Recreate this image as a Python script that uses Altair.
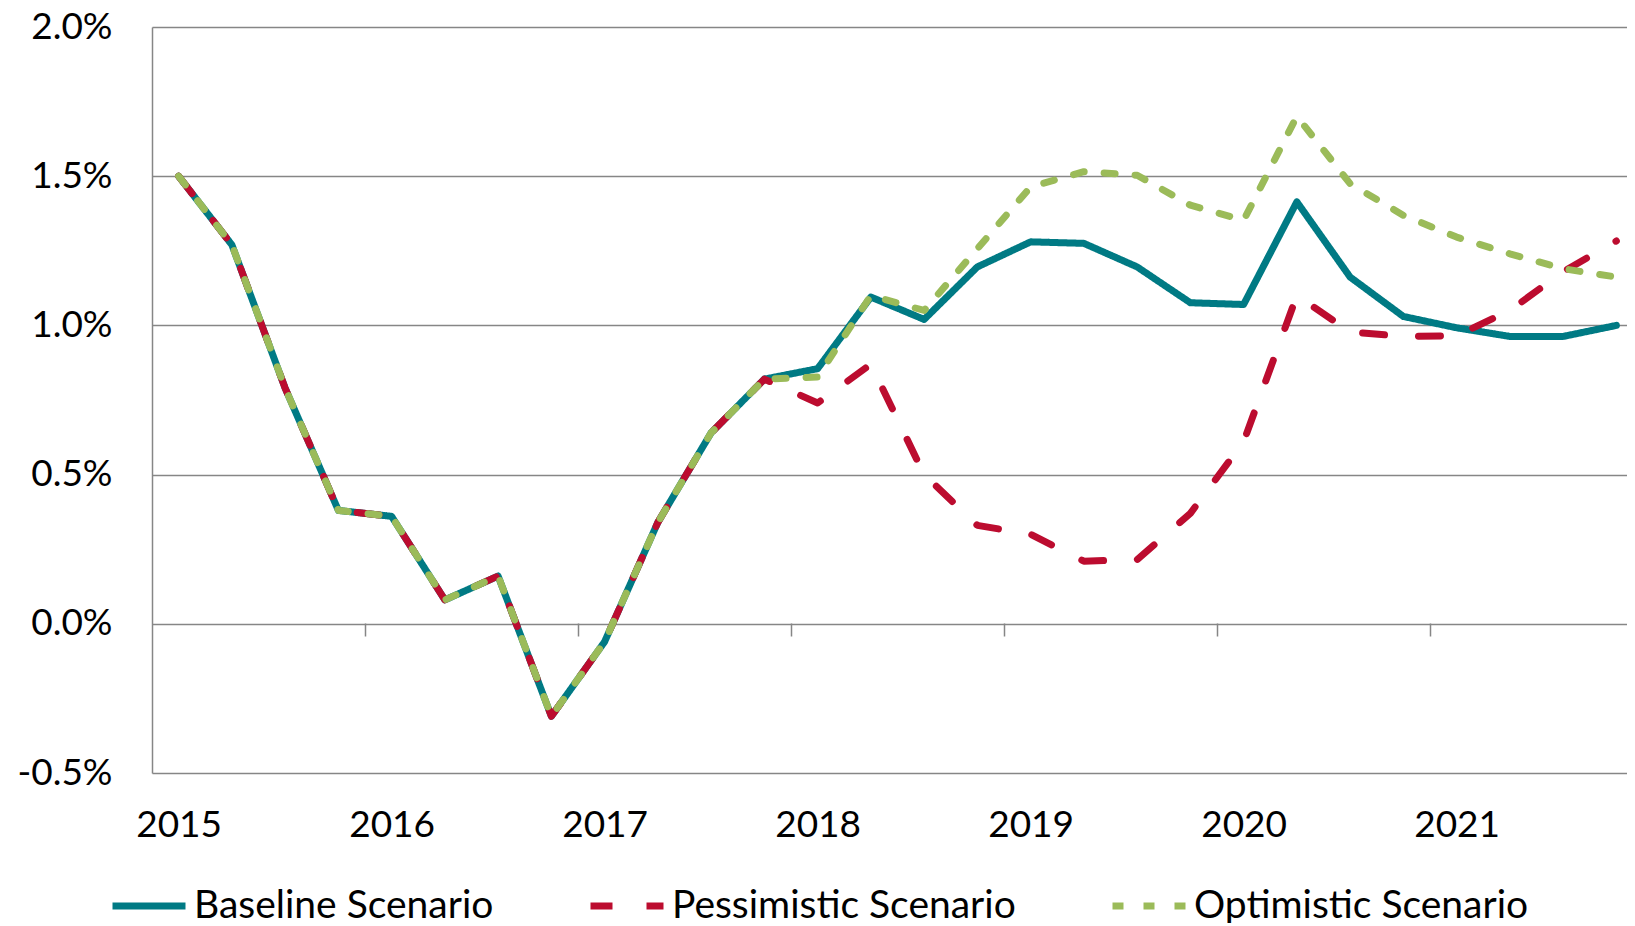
import altair as alt
import pandas as pd

# ---- data (quarterly, 2015Q1 .. 2021Q4), values in percent ----
years = ["2015", "2016", "2017", "2018", "2019", "2020", "2021"]
quarters = [
    "2015Q1", "2015Q2", "2015Q3", "2015Q4",
    "2016Q1", "2016Q2", "2016Q3", "2016Q4",
    "2017Q1", "2017Q2", "2017Q3", "2017Q4",
    "2018Q1", "2018Q2", "2018Q3", "2018Q4",
    "2019Q1", "2019Q2", "2019Q3", "2019Q4",
    "2020Q1", "2020Q2", "2020Q3", "2020Q4",
    "2021Q1", "2021Q2", "2021Q3", "2021Q4",
]
baseline = [1.50, 1.27, 0.79, 0.38, 0.36, 0.08, 0.16, -0.31, -0.06, 0.34, 0.64, 0.82,
            0.855, 1.095, 1.02, 1.196, 1.28, 1.275, 1.196, 1.076, 1.07, 1.414, 1.162, 1.03,
            0.992, 0.963, 0.963, 1.00]
pessimistic = [1.50, 1.27, 0.79, 0.38, 0.36, 0.08, 0.16, -0.31, -0.06, 0.34, 0.64, 0.82,
               0.74, 0.87, 0.50, 0.33, 0.30, 0.21, 0.215, 0.37, 0.61, 1.10, 0.978, 0.963,
               0.965, 1.05, 1.18, 1.283]
optimistic = [1.50, 1.27, 0.79, 0.38, 0.36, 0.08, 0.16, -0.31, -0.06, 0.34, 0.64, 0.82,
              0.827, 1.10, 1.05, 1.257, 1.464, 1.515, 1.503, 1.403, 1.352, 1.701, 1.475, 1.369,
              1.296, 1.24, 1.19, 1.162]

names = ["Baseline Scenario", "Pessimistic Scenario", "Optimistic Scenario"]
colors = ["#007A84", "#BC0C2F", "#9BBB59"]
dashes = [[1, 0], [22, 34], [11, 20]]
y_ticks = [-0.5, 0.0, 0.5, 1.0, 1.5, 2.0]
year_tick_idx = [0, 4, 8, 12, 16, 20, 24]
boundary_idx = [3.5, 7.5, 11.5, 15.5, 19.5, 23.5]

rows = []
for name, series in zip(names, [baseline, pessimistic, optimistic]):
    for i, (q, v) in enumerate(zip(quarters, series)):
        rows.append({"idx": i, "quarter": q, "series": name, "value": v})
df = pd.DataFrame(rows)

FONT = "Lato"
FS = 37
LEG_FS = 39
GRID = "#868686"
LW = 7

xscale = alt.Scale(domain=[-0.5, 27.2], nice=False, zero=False)
yscale = alt.Scale(domain=[-0.5, 2.0], nice=False, zero=False)

label_expr = "[" + ",".join("'" + y + "'" for y in years) + "][datum.value / 4]"
year_axis = alt.Axis(orient="bottom", values=year_tick_idx, labelExpr=label_expr, grid=False,
                     ticks=False, domain=False, labelFont=FONT, labelFontSize=FS,
                     labelColor="black", labelPadding=34, title=None, labelFlush=False,
                     labelOverlap=False)
tick_axis = alt.Axis(orient="bottom", values=boundary_idx, labels=False, grid=False, ticks=True,
                     tickSize=13, tickColor=GRID, tickWidth=1.5, domain=False, offset=-150,
                     title=None)
yaxis = alt.Axis(values=y_ticks, grid=True, gridColor=GRID, gridWidth=1.5, ticks=False,
                 domain=True, domainColor=GRID, domainWidth=1.5,
                 labelExpr="(datum.value < 0 ? '-' : '') + format(abs(datum.value), '.1f') + '%'",
                 labelFont=FONT, labelFontSize=FS, labelColor="black", labelPadding=40,
                 title=None)

legend = alt.Legend(title=None, orient="none", legendX=-43, legendY=839, direction="horizontal",
                    columns=3, symbolType="stroke", symbolSize=5329, symbolStrokeWidth=LW,
                    labelFont=FONT, labelFontSize=LEG_FS, labelColor="black", labelLimit=0,
                    labelOffset=5, columnPadding=82)

color_scale = alt.Scale(domain=names, range=colors)
dash_scale = alt.Scale(domain=names, range=dashes)

base = alt.Chart(df)

tick_layer = base.transform_filter(alt.datum.series == names[0]).mark_point(opacity=0).encode(
    x=alt.X("idx:Q", scale=xscale, axis=tick_axis),
    y=alt.Y("value:Q", scale=yscale, axis=yaxis),
)

def series_layer(name, xaxis):
    return base.transform_filter(alt.datum.series == name).mark_line(
        strokeWidth=LW, strokeCap="round", strokeJoin="round"
    ).encode(
        x=alt.X("idx:Q", scale=xscale, axis=xaxis),
        y=alt.Y("value:Q", scale=yscale, axis=yaxis),
        color=alt.Color("series:N", scale=color_scale, legend=legend),
        strokeDash=alt.StrokeDash("series:N", scale=dash_scale, legend=legend),
    )

chart = alt.layer(
    tick_layer,
    series_layer(names[0], year_axis),
    series_layer(names[1], None),
    series_layer(names[2], None),
).resolve_axis(x="independent").properties(
    width=1475, height=746,
    autosize=alt.AutoSizeParams(type="none"),
    padding={"left": 144, "top": 19, "right": 0, "bottom": 150},
).configure_view(stroke=None)

chart.save("out.html", embed_options={"renderer": "svg", "actions": False})
